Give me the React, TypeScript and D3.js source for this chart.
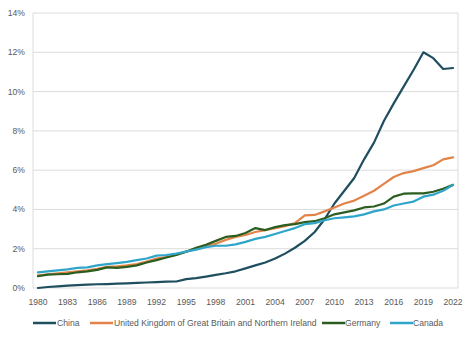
import React from "react";
import * as d3 from "d3";

const years: number[] = d3.range(1980, 2023);
const yTicks: number[] = [0, 2, 4, 6, 8, 10, 12, 14];
const xTickYears: number[] = d3.range(1980, 2023, 3);

const china: number[] = [0.0, 0.05, 0.08, 0.12, 0.15, 0.17, 0.19, 0.2, 0.22, 0.24, 0.26, 0.28, 0.3, 0.32, 0.33, 0.45, 0.5, 0.58, 0.67, 0.75, 0.85, 1.0, 1.15, 1.3, 1.5, 1.75, 2.05, 2.4, 2.85, 3.5, 4.3, 4.95, 5.6, 6.55, 7.4, 8.5, 9.4, 10.25, 11.1, 12.0, 11.7, 11.15, 11.2];
const uk: number[] = [0.65, 0.7, 0.75, 0.8, 0.85, 0.9, 0.98, 1.08, 1.1, 1.15, 1.22, 1.35, 1.5, 1.58, 1.7, 1.85, 2.0, 2.15, 2.25, 2.45, 2.6, 2.7, 2.85, 2.95, 3.05, 3.15, 3.3, 3.7, 3.72, 3.9, 4.1, 4.3, 4.45, 4.7, 4.95, 5.3, 5.65, 5.85, 5.95, 6.1, 6.25, 6.55, 6.65];
const germany: number[] = [0.6, 0.68, 0.7, 0.72, 0.8, 0.85, 0.92, 1.05, 1.02, 1.08, 1.15, 1.3, 1.42, 1.55, 1.68, 1.85, 2.05, 2.2, 2.4, 2.6, 2.65, 2.8, 3.05, 2.95, 3.1, 3.2, 3.25, 3.35, 3.4, 3.55, 3.75, 3.85, 3.95, 4.1, 4.15, 4.3, 4.65, 4.8, 4.82, 4.82, 4.9, 5.05, 5.25];
const canada: number[] = [0.8, 0.85, 0.9, 0.95, 1.02, 1.05, 1.15, 1.22, 1.27, 1.33, 1.42, 1.5, 1.65, 1.68, 1.75, 1.85, 1.95, 2.08, 2.15, 2.15, 2.22, 2.35, 2.5, 2.6, 2.75, 2.9, 3.05, 3.25, 3.3, 3.45, 3.55, 3.6, 3.65, 3.75, 3.9, 4.0, 4.2, 4.3, 4.4, 4.65, 4.75, 4.95, 5.25];

const seriesNames: string[] = ["China", "United Kingdom of Great Britain and Northern Ireland", "Germany", "Canada"];
const seriesValues: number[][] = [china, uk, germany, canada];
const seriesColors: string[] = ["#1f4e5f", "#e2844a", "#2b5d20", "#2fa5c9"];

const W = 474, H = 340;
const plot = { left: 33, right: 458, top: 13, bottom: 288 };
const font = "'Liberation Sans', Arial, sans-serif";
const textColor = "#595959";

export default function App() {
  const x = d3.scalePoint<number>().domain(years).range([plot.left, plot.right]).padding(0.5);
  const y = d3.scaleLinear().domain([0, 14]).range([plot.bottom, plot.top]);
  const line = d3.line<number>().x((_, i) => x(years[i]) as number).y((d) => y(d));

  const legendItems = [
    { lx: 33, tx: 57 },
    { lx: 90, tx: 114 },
    { lx: 322, tx: 345 },
    { lx: 390, tx: 413 },
  ];

  return (
    <svg width={W} height={H} style={{ position: "absolute", left: 0, top: 0, background: "#fff" }} fontFamily={font}>
      <rect x={0} y={0} width={W} height={H} fill="#fff" />
      {yTicks.map((t) => (
        <g key={t}>
          <line x1={plot.left} x2={plot.right} y1={y(t)} y2={y(t)} stroke="#dcdcdc" strokeWidth={1} />
          <text x={25} y={y(t)} dy="0.35em" textAnchor="end" fontSize={8.6} fill={textColor}>{t}%</text>
        </g>
      ))}
      <line x1={plot.left} x2={plot.left} y1={plot.top} y2={plot.bottom} stroke="#dcdcdc" />
      <line x1={plot.right} x2={plot.right} y1={plot.top} y2={plot.bottom} stroke="#dcdcdc" />
      {xTickYears.map((yr) => (
        <text key={yr} x={x(yr)} y={302} dy="0.35em" textAnchor="middle" fontSize={8.6} fill={textColor}>{yr}</text>
      ))}
      {seriesValues.map((vals, i) => (
        <path key={seriesNames[i]} d={line(vals) || ""} fill="none" stroke={seriesColors[i]} strokeWidth={2.2} strokeLinejoin="round" strokeLinecap="round" />
      ))}
      {seriesNames.map((name, i) => (
        <g key={name}>
          <line x1={legendItems[i].lx} x2={legendItems[i].lx + 23} y1={323} y2={323} stroke={seriesColors[i]} strokeWidth={2.5} />
          <text x={legendItems[i].tx} y={323} dy="0.35em" fontSize={8.6} fill={textColor}>{name}</text>
        </g>
      ))}
    </svg>
  );
}
